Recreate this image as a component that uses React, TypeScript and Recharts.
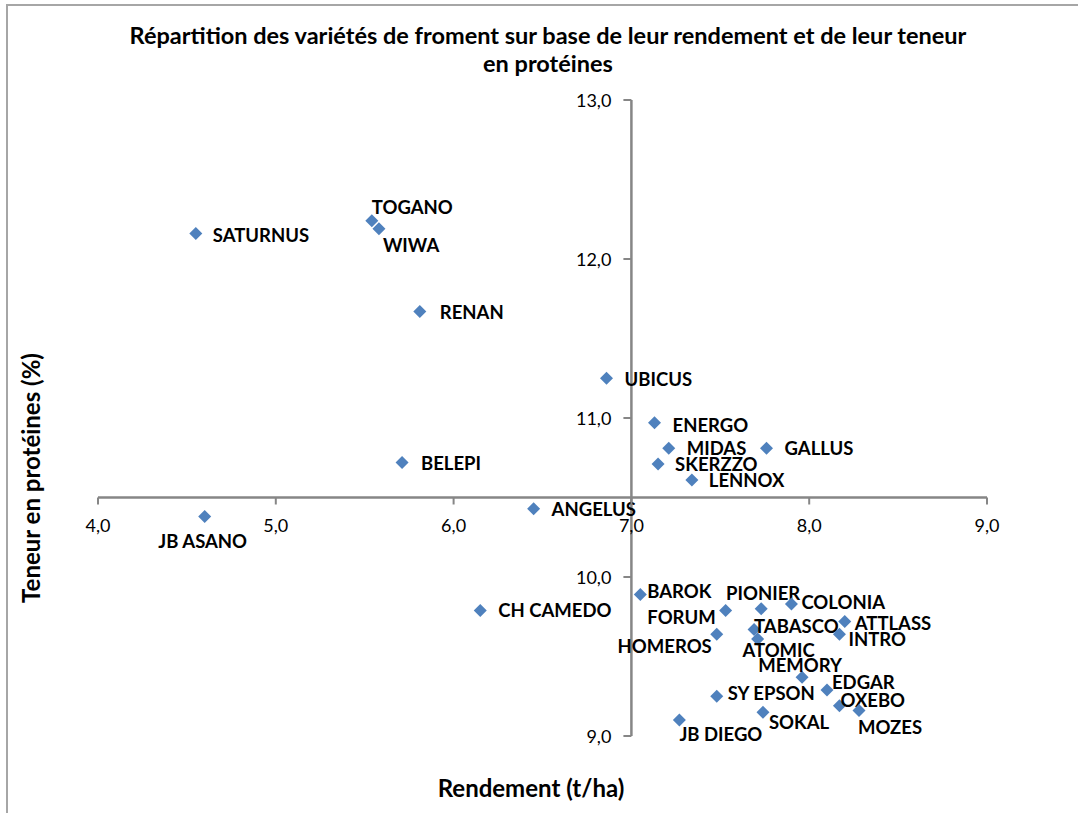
import React from 'react';
import { ScatterChart, Scatter, XAxis, YAxis, ZAxis, ReferenceLine } from 'recharts';

// variety names with yield (t/ha) and protein content (%)
const varietes = [
  'SATURNUS', 'TOGANO', 'WIWA', 'RENAN', 'UBICUS', 'ENERGO', 'MIDAS', 'GALLUS', 'SKERZZO', 'LENNOX',
  'BELEPI', 'ANGELUS', 'JB ASANO', 'CH CAMEDO', 'BAROK', 'FORUM', 'PIONIER', 'COLONIA', 'ATTLASS', 'TABASCO',
  'INTRO', 'HOMEROS', 'ATOMIC', 'MEMORY', 'EDGAR', 'SY EPSON', 'OXEBO', 'MOZES', 'SOKAL', 'JB DIEGO',
];
const rendement = [
  4.55, 5.54, 5.58, 5.81, 6.86, 7.13, 7.21, 7.76, 7.15, 7.34,
  5.71, 6.45, 4.6, 6.15, 7.05, 7.53, 7.73, 7.9, 8.2, 7.69,
  8.17, 7.48, 7.71, 7.96, 8.1, 7.48, 8.17, 8.28, 7.74, 7.27,
];
const proteines = [
  12.16, 12.24, 12.19, 11.67, 11.25, 10.97, 10.81, 10.81, 10.71, 10.61,
  10.72, 10.43, 10.38, 9.79, 9.89, 9.79, 9.8, 9.83, 9.72, 9.67,
  9.64, 9.64, 9.61, 9.37, 9.29, 9.25, 9.19, 9.16, 9.15, 9.1,
];
const xTicks = [4, 5, 6, 7, 8, 9];
const yTicks = [9, 10, 11, 12, 13];

const data = varietes.map((name, i) => ({ name, x: rendement[i], y: proteines[i] }));

// label placement next to each marker: [dx, dy, anchor]
const labelPos: Record<string, [number, number, string]> = {
  SATURNUS: [17, 1, 'start'], TOGANO: [0, -14, 'start'], WIWA: [4, 16, 'start'], RENAN: [20, 1, 'start'],
  UBICUS: [18, 1, 'start'], ENERGO: [18, 2, 'start'], MIDAS: [18, 0, 'start'], GALLUS: [18, 0, 'start'],
  SKERZZO: [17, 0, 'start'], LENNOX: [17, 0, 'start'], BELEPI: [19, 0, 'start'], ANGELUS: [18, 0, 'start'],
  'JB ASANO': [-2, 24, 'middle'], 'CH CAMEDO': [18, 0, 'start'], BAROK: [7, -3, 'start'], FORUM: [-10, 7, 'end'],
  PIONIER: [2, -16, 'middle'], COLONIA: [10, -2, 'start'], ATTLASS: [10, 1, 'start'], TABASCO: [0, -3, 'start'],
  INTRO: [9, 5, 'start'], HOMEROS: [-5, 12, 'end'], ATOMIC: [21, 11, 'middle'], MEMORY: [-2, -12, 'middle'],
  EDGAR: [5, -8, 'start'], 'SY EPSON': [11, -3, 'start'], OXEBO: [1, -6, 'start'], MOZES: [-1, 16, 'start'],
  SOKAL: [6, 10, 'start'], 'JB DIEGO': [0, 14, 'start'],
};

const W = 1078;
const H = 813;
const LEFT = 98;
const TOP = 100;
const PLOT_W = 889;
const PLOT_H = 636;
const X_MIN = 4, X_MAX = 9, Y_MIN = 9, Y_MAX = 13;
const CROSS_X = 7;
const CROSS_Y = 10.5;
const crossXpx = LEFT + ((CROSS_X - X_MIN) / (X_MAX - X_MIN)) * PLOT_W;
const crossYpx = TOP + ((Y_MAX - CROSS_Y) / (Y_MAX - Y_MIN)) * PLOT_H;

const FONT = 'Lato, "Open Sans", sans-serif';
const AXIS_COLOR = '#868686';
const fmt = (v: number) => v.toFixed(1).replace('.', ',');

const XTick = (props: any) => {
  const { x, payload } = props;
  return (
    <g>
      <line x1={x} x2={x} y1={crossYpx} y2={crossYpx + 7} stroke={AXIS_COLOR} strokeWidth={2} />
      <text x={x} y={crossYpx + 27} textAnchor="middle" dominantBaseline="central" fontFamily={FONT} fontSize={18} fill="#000">
        {fmt(payload.value)}
      </text>
    </g>
  );
};

const YTick = (props: any) => {
  const { y, payload } = props;
  return (
    <g>
      <line x1={crossXpx - 8} x2={crossXpx} y1={y} y2={y} stroke={AXIS_COLOR} strokeWidth={2} />
      <text x={crossXpx - 20} y={y} textAnchor="end" dominantBaseline="central" fontFamily={FONT} fontSize={18} fill="#000">
        {fmt(payload.value)}
      </text>
    </g>
  );
};

const DiamondLabel = (props: any) => {
  const { cx, cy, payload } = props;
  const r = 6.5;
  const [dx, dy, anchor] = labelPos[payload.name] || [16, 0, 'start'];
  return (
    <g>
      <path d={`M${cx},${cy - r}L${cx + r},${cy}L${cx},${cy + r}L${cx - r},${cy}Z`} fill="#4f81bd" />
      <text
        x={cx + dx}
        y={cy + dy}
        textAnchor={anchor as any}
        dominantBaseline="central"
        fontFamily={FONT}
        fontSize={18.5}
        fontWeight="bold"
        fill="#000"
      >
        {payload.name}
      </text>
    </g>
  );
};

export default function App() {
  return (
    <div style={{ position: 'absolute', left: 0, top: 0, width: W, height: H, overflow: 'hidden', background: '#fff' }}>
      <div
        style={{
          position: 'absolute', left: 6, top: 4, width: W + 20, height: H + 20,
          borderTop: '2px solid #a6a6a6', borderLeft: '2px solid #a6a6a6',
        }}
      />
      <div style={{ position: 'absolute', left: 0, top: 0 }}>
        <ScatterChart
          width={W}
          height={H}
          margin={{ top: TOP, left: LEFT - 1, right: W - LEFT - PLOT_W, bottom: H - TOP - PLOT_H - 1 }}
        >
          <XAxis
            type="number"
            dataKey="x"
            domain={[X_MIN, X_MAX]}
            ticks={xTicks}
            height={1}
            axisLine={false}
            tickLine={false}
            tick={(p: any) => <XTick {...p} />}
            interval={0}
          />
          <YAxis
            type="number"
            dataKey="y"
            domain={[Y_MIN, Y_MAX]}
            ticks={yTicks}
            width={1}
            axisLine={false}
            tickLine={false}
            tick={(p: any) => <YTick {...p} />}
            interval={0}
          />
          <ZAxis range={[80, 80]} />
          <ReferenceLine x={CROSS_X} stroke={AXIS_COLOR} strokeWidth={2.5} />
          <ReferenceLine y={CROSS_Y} stroke={AXIS_COLOR} strokeWidth={2.5} />
          <Scatter data={data} shape={<DiamondLabel />} isAnimationActive={false} />
          <text x={548} y={35} textAnchor="middle" dominantBaseline="central" fontFamily={FONT} fontSize={23.5} fontWeight="bold">
            Répartition des variétés de froment sur base de leur rendement et de leur teneur
          </text>
          <text x={548} y={63} textAnchor="middle" dominantBaseline="central" fontFamily={FONT} fontSize={23.5} fontWeight="bold">
            en protéines
          </text>
          <text x={531} y={787} textAnchor="middle" dominantBaseline="central" fontFamily={FONT} fontSize={24} fontWeight="bold">
            Rendement (t/ha)
          </text>
          <text
            x={30}
            y={478}
            textAnchor="middle"
            dominantBaseline="central"
            fontFamily={FONT}
            fontSize={24}
            fontWeight="bold"
            transform="rotate(-90 30 478)"
          >
            Teneur en protéines (%)
          </text>
        </ScatterChart>
      </div>
    </div>
  );
}
